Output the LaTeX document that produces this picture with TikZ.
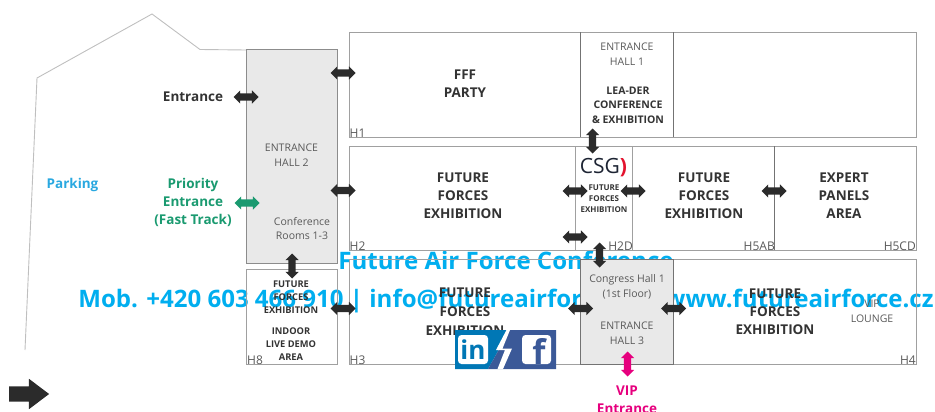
\documentclass[tikz,border=0pt]{standalone}
\usepackage{fontspec}
\setmainfont{Open Sans}
\usetikzlibrary{shapes.arrows}
\definecolor{ink}{HTML}{333333}
\definecolor{soft}{HTML}{595959}
\definecolor{wall}{HTML}{A0A0A0}
\definecolor{hallfill}{HTML}{E9E9E9}
\definecolor{skyb}{HTML}{00AEEF}
\definecolor{parkb}{HTML}{29A8E0}
\definecolor{prio}{HTML}{1A9A70}
\definecolor{vip}{HTML}{E6007E}
\definecolor{lin}{HTML}{0077B5}
\definecolor{fbk}{HTML}{3B5998}
\definecolor{csgn}{HTML}{1D2433}
\definecolor{csgr}{HTML}{E3122D}
\definecolor{arrowk}{HTML}{2B2B2B}
\newcommand{\fs}[2]{\fontsize{#1}{#2}\selectfont}
\tikzset{
  x=1pt,y=-1pt,
  lbl/.style={inner sep=0pt,align=center,text=ink,yshift=-1pt,font=\fs{13.5}{18.2}\bfseries},
  big/.style={lbl},
  mid/.style={lbl,font=\fs{10.5}{14.6}\bfseries},
  sma/.style={lbl,font=\fs{9.3}{12.9}\bfseries},
  tiny/.style={lbl,font=\fs{8}{10.8}\bfseries},
  thin lbl/.style={inner sep=0pt,align=center,text=soft,yshift=-1pt,font=\fs{10.5}{14.8}},
  hall/.style={inner sep=0pt,text=soft,font=\fs{12}{12}},
  banner/.style={inner sep=0pt,text=skyb,font=\fs{24.05}{24}\bfseries},
  room/.style={draw=wall,line width=1pt},
  twoway/.style={double arrow,fill=#1,draw=none,inner xsep=0pt,inner ysep=3.5pt,minimum height=25pt,
    double arrow head extend=3pt,double arrow tip angle=90},
  twoway/.default=arrowk
}
\begin{document}
\begin{tikzpicture}
\useasboundingbox (0,0) rectangle (935,412);
% banner text lies under the rooms
\node[banner] (t1) at (506,260) {Future Air Force Conference};
\node[banner] (t2) at (506,301.5) {Mob. +420 603 466 910 | info@futureairforce.cz | www.futureairforce.cz};
% site outline
\draw[draw=black!25,line width=0.9pt] (25,350) -- (37,78) -- (152,14) -- (200,49.5) -- (246,50);
% halls
\draw[room,fill=hallfill,draw=black!45] (246,50) rectangle (337,263);
\draw[room] (246,269) rectangle (337,364);
\draw[room] (349.5,32.5) rectangle (916,137);
\draw[room,draw=black!55,line width=0.9pt] (580.5,32.5) -- (580.5,137) (673.5,32.5) -- (673.5,137);
\draw[room] (349.5,146) rectangle (916,250);
\draw[room,line width=0.9pt] (575,146) -- (575,250) (632.7,146) -- (632.7,250);
\draw[room,draw=black!55,line width=0.9pt] (774.5,146) -- (774.5,250);
\draw[room] (349.5,259.5) rectangle (916,364);
\draw[fill=hallfill,draw=black!55,line width=0.9pt] (580.5,259.5) rectangle (673.5,364);
% labels
\node[big] (entr) at (193,95.5) {Entrance};
\node[big,text=parkb] (park) at (72.5,183.5) {Parking};
\node[big,text=prio] (prio) at (193,201.5) {Priority\\Entrance\\(Fast Track)};
\node[thin lbl] (h2t) at (291.5,154) {ENTRANCE\\HALL 2};
\node[thin lbl] (conf) at (302,227.5) {Conference\\Rooms 1-3};
\node[sma] (h8a) at (291,296.5) {FUTURE\\FORCES\\EXHIBITION};
\node[sma] (h8b) at (291,343.5) {INDOOR\\LIVE DEMO\\AREA};
\node[big] (fff) at (465,82.5) {FFF\\PARTY};
\node[thin lbl] (h1t) at (627,53) {ENTRANCE\\HALL 1};
\node[mid] (lea) at (628,104) {LEA-DER\\CONFERENCE\\\& EXHIBITION};
\node[big] (ff2) at (463,194.5) {FUTURE\\FORCES\\EXHIBITION};
\node[inner sep=0pt,font=\fs{21}{21}] (csg) at (603.5,168) {\textcolor{csgn}{CSG}\textcolor{csgr}{\bfseries)}};
\node[tiny] (ff2d) at (604,197.5) {FUTURE\\FORCES\\EXHIBITION};
\node[big] (ff5) at (704,194.5) {FUTURE\\FORCES\\EXHIBITION};
\node[big] (exp) at (844,194.5) {EXPERT\\PANELS\\AREA};
\node[big] (ff3) at (465,311) {FUTURE\\[0.8pt]FORCES\\[0.8pt]EXHIBITION};
\node[big] (ff4) at (775,310.5) {FUTURE\\FORCES\\EXHIBITION};
\node[thin lbl] (vipl) at (872,310.5) {VIP\\LOUNGE};
\node[thin lbl] (con) at (627,286) {Congress Hall 1\\(1st Floor)};
\node[thin lbl] (h3t) at (627,332) {ENTRANCE\\HALL 3};
\node[big,text=vip] (vipe) at (627,399) {VIP\\Entrance};
% hall codes
\node[hall,anchor=west] (c8) at (247,360) {H8};
\node[hall,anchor=west] (c1) at (349.5,133) {H1};
\node[hall,anchor=west] (c2) at (349.5,246) {H2};
\node[hall,anchor=west] (c3) at (349.5,360) {H3};
\node[hall,anchor=east] (c2d) at (633,246) {H2D};
\node[hall,anchor=east] (c5a) at (775,246) {H5AB};
\node[hall,anchor=east] (c5c) at (916,246) {H5CD};
\node[hall,anchor=east] (c4) at (916,360) {H4};
% arrows
\node[twoway] (a1) at (246,97) {};
\node[twoway=prio] (a2) at (247,203) {};
\node[twoway] (a3) at (343,73) {};
\node[twoway] (a4) at (343,190.5) {};
\node[twoway] (a5) at (343,308.5) {};
\node[twoway,rotate=90] (a6) at (292,266) {};
\node[twoway,rotate=90] (a7) at (592.5,141) {};
\node[twoway] (a8) at (575,191) {};
\node[twoway] (a9) at (575,237) {};
\node[twoway] (a10) at (633,191) {};
\node[twoway,rotate=90] (a11) at (599.5,255) {};
\node[twoway] (a12) at (580.5,308.5) {};
\node[twoway] (a13) at (673.5,308.5) {};
\node[twoway] (a14) at (774,191) {};
\node[twoway=vip,rotate=90] (a15) at (627.5,364) {};
\node[single arrow,fill=arrowk,inner xsep=0pt,inner ysep=7.5pt,minimum height=40pt,
  single arrow head extend=7.5pt,single arrow tip angle=74] (dir) at (24,394) {};
% social badge
\fill[lin] (455,330) -- (510,330) -- (488,369) -- (455,369) -- cycle;
\fill[fbk] (510,330) -- (556,330) -- (556,369) -- (488,369) -- cycle;
\fill[white] (506.5,330) -- (496,350) -- (505,350) -- (497.5,369) -- (503,369) -- (512,348.5) -- (502.5,348.5) -- (510,330) -- cycle;
\fill[white,rounded corners=3.5pt] (458,335) rectangle (488,364);
\fill[white,rounded corners=3.5pt] (522,335) rectangle (551,364);
\node[inner sep=0pt,text=lin,font=\fs{26}{26}\bfseries] (lk) at (473,350) {in};
\node[inner sep=0pt,text=fbk,font=\fs{34}{34}\bfseries,anchor=base] (fb) at (539,364) {f};
\end{tikzpicture}
\end{document}
